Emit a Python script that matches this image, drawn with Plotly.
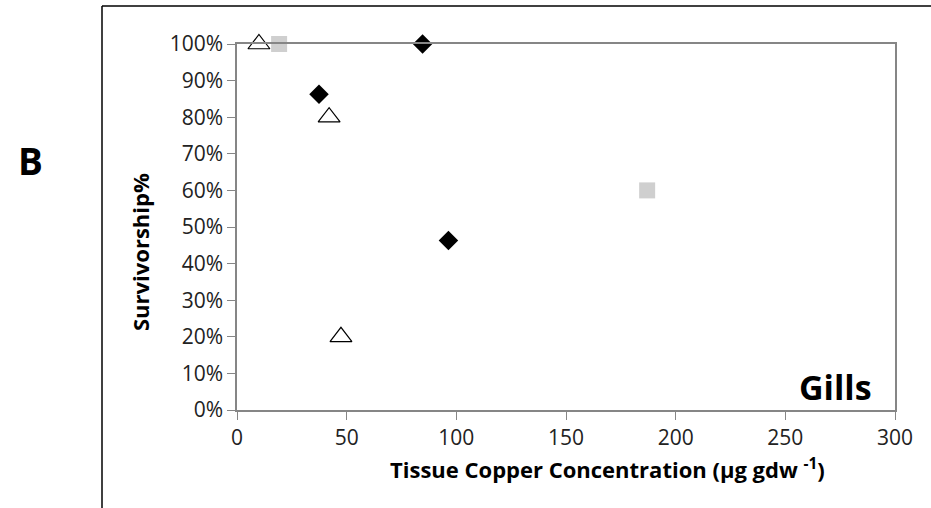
import plotly.graph_objects as go

# Data
tri_x = [10, 42, 47.4]
tri_y = [1.00, 0.80, 0.20]
sq_x = [19.2, 187]
sq_y = [1.00, 0.60]
dia_x = [37.4, 84.6, 96.4]
dia_y = [0.863, 1.00, 0.463]

x_ticks = [0, 50, 100, 150, 200, 250, 300]
y_ticks = [i / 10 for i in range(11)]

FONT = "Open Sans"
AX = "#868686"

fig = go.Figure()
fig.add_trace(go.Scatter(x=tri_x, y=tri_y, mode="markers", cliponaxis=False,
                         marker=dict(symbol="triangle-up", size=19, color="white",
                                     line=dict(color="black", width=1.2)),
                         showlegend=False))
fig.add_trace(go.Scatter(x=sq_x, y=sq_y, mode="markers", cliponaxis=False,
                         marker=dict(symbol="square", size=16, color="#cfcfcf",
                                     line=dict(width=0)),
                         showlegend=False))
fig.add_trace(go.Scatter(x=dia_x, y=dia_y, mode="markers", cliponaxis=False,
                         marker=dict(symbol="diamond", size=15, color="black",
                                     line=dict(width=0)),
                         showlegend=False))

L, R, T, B = 237, 895, 44, 410
W, H = 931, 508

def px(x):
    return (x - L) / (R - L)

def py(y):
    return (B - y) / (B - T)

fig.update_layout(
    width=W, height=H,
    margin=dict(l=L, r=W - R, t=T, b=H - B),
    paper_bgcolor="white", plot_bgcolor="white",
    font=dict(family=FONT, color="black"),
    xaxis=dict(range=[0, 300], tickvals=x_ticks, showgrid=False, zeroline=False,
               showline=True, linecolor=AX, linewidth=1.5, mirror=True,
               ticks="outside", ticklen=8, tickcolor=AX, tickwidth=1,
               tickfont=dict(size=21, family=FONT, color="#222")),
    yaxis=dict(range=[0, 1], tickvals=y_ticks, tickformat=".0%", showgrid=False,
               zeroline=False, showline=True, linecolor=AX, linewidth=1.5, mirror=True,
               ticks="outside", ticklen=8, tickcolor=AX, tickwidth=1,
               tickfont=dict(size=21, family=FONT, color="#222")),
    shapes=[
        dict(type="line", xref="paper", yref="paper", x0=px(102), x1=px(102),
             y0=py(6), y1=py(H), line=dict(color="black", width=1.5)),
        dict(type="line", xref="paper", yref="paper", x0=px(102), x1=px(W),
             y0=py(6), y1=py(6), line=dict(color="black", width=1.5)),
    ],
    annotations=[
        dict(text="<b>Tissue Copper Concentration (μg gdw <sup>-1</sup>)</b>",
             xref="paper", yref="paper", x=px(607), y=py(468), showarrow=False,
             font=dict(size=22, family=FONT), xanchor="center", yanchor="middle"),
        dict(text="<b>Survivorship%</b>", xref="paper", yref="paper", x=px(140),
             y=py(252), showarrow=False, textangle=-90,
             font=dict(size=22, family=FONT), xanchor="center", yanchor="middle"),
        dict(text="<b>Gills</b>", xref="paper", yref="paper", x=px(835), y=py(387),
             showarrow=False, font=dict(size=34, family=FONT), xanchor="center",
             yanchor="middle"),
        dict(text="<b>B</b>", xref="paper", yref="paper", x=px(30), y=py(160),
             showarrow=False, font=dict(size=37, family=FONT), xanchor="center",
             yanchor="middle"),
    ],
)

fig.write_html("out.html")
